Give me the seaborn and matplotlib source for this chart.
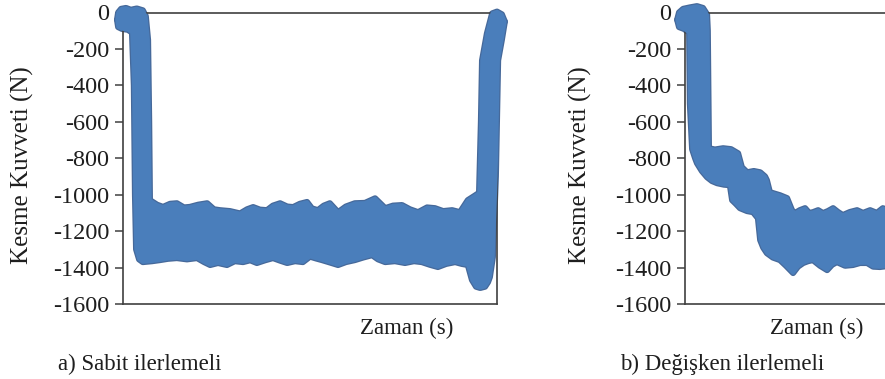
import numpy as np
import matplotlib
matplotlib.use("Agg")
import matplotlib.pyplot as plt
import seaborn as sns

# Kesme kuvveti bandi: ust ve alt zarf (zaman ekseni 0-100 birim, kuvvet N)
# a) Sabit ilerlemeli
a_t_ust = [-1.6, -1.3, -0.5, 0.8, 2.1, 3.7, 5.3, 6.1, 6.7, 7.0, 7.2, 9.1, 10.7, 12.6, 14.4,
           16.3, 17.9, 20.1, 22.5, 24.3, 25.9, 28.6, 31.3, 33.2, 34.8, 36.6, 38.5, 40.1, 42.0,
           43.9, 45.5, 47.3, 49.2, 50.5, 52.1, 53.7, 55.3, 57.5, 59.6, 62.0, 64.7, 67.4, 70.1,
           72.2, 74.6, 76.7, 78.9, 81.3, 83.4, 85.6, 88.0, 90.1, 92.2, 94.1, 95.2, 95.7, 96.0,
           97.3, 98.7, 100.0, 101.3, 102.1]
a_ust = [-40, 0, 20, 25, 15, 22, 12, -20, -150, -600, -1030, -1055, -1067, -1050, -1047,
         -1070, -1067, -1055, -1047, -1080, -1085, -1090, -1103, -1080, -1068, -1082, -1085,
         -1060, -1047, -1065, -1068, -1050, -1040, -1075, -1085, -1060, -1047, -1096, -1065,
         -1047, -1045, -1020, -1074, -1060, -1057, -1080, -1096, -1070, -1074, -1090, -1085,
         -1096, -1030, -1005, -990, -600, -263, -115, -5, 5, -10, -50]
a_t_alt = [-1.6, -1.3, -0.3, 1.3, 2.4, 2.9, 3.2, 3.5, 4.3, 5.3, 7.8, 9.9, 12.0, 14.4, 17.1,
           19.8, 21.7, 23.3, 25.4, 27.8, 29.9, 32.1, 34.0, 35.8, 38.0, 40.1, 42.0, 43.9, 46.0,
           48.1, 50.0, 51.6, 53.2, 55.3, 57.5, 59.6, 62.0, 64.2, 66.6, 68.2, 70.1, 72.7, 75.4,
           77.8, 79.9, 82.1, 84.2, 86.4, 88.8, 90.6, 92.2, 93.3, 94.4, 95.5, 96.8, 97.6, 98.1,
           98.9, 99.7, 100.3, 101.3, 102.1]
a_alt = [-40, -80, -90, -95, -110, -400, -1000, -1300, -1355, -1370, -1365, -1359, -1352,
         -1348, -1355, -1348, -1370, -1386, -1375, -1386, -1365, -1370, -1360, -1375, -1360,
         -1348, -1362, -1375, -1365, -1370, -1340, -1350, -1359, -1372, -1386, -1370, -1359,
         -1345, -1332, -1355, -1370, -1365, -1375, -1365, -1370, -1385, -1397, -1380, -1370,
         -1380, -1386, -1468, -1505, -1512, -1505, -1480, -1452, -1342, -900, -263, -150, -50]

# b) Degisken ilerlemeli
b_t_ust = [-2.1, -1.6, -0.5, 1.3, 3.2, 4.8, 5.9, 6.1, 6.4, 8.0, 10.2, 12.3, 14.2, 15.2, 16.6,
           18.4, 20.1, 21.4, 21.9, 22.7, 24.1, 25.4, 27.3, 28.6, 29.4, 30.7, 32.1, 33.2, 34.2,
           35.6, 36.9, 38.2, 39.6, 40.9, 42.2, 44.1, 46.0, 47.6, 49.5, 51.3, 52.9, 54.8]
b_ust = [-40, 0, 20, 28, 35, 25, -10, -100, -745, -752, -745, -750, -773, -849, -877, -870,
         -877, -900, -921, -986, -995, -1003, -1019, -1085, -1101, -1085, -1074, -1100, -1096,
         -1085, -1101, -1090, -1074, -1095, -1112, -1095, -1085, -1100, -1085, -1100, -1074,
         -1090]
b_t_alt = [-2.1, -1.6, -0.3, 1.1, 1.3, 1.9, 2.7, 3.2, 4.5, 5.9, 7.2, 8.6, 10.4, 12.0, 12.6,
           13.6, 14.7, 16.6, 18.2, 19.5, 20.1, 20.9, 21.9, 23.5, 25.4, 27.0, 28.9, 30.2, 31.6,
           32.9, 34.2, 36.1, 38.0, 39.3, 40.6, 42.8, 44.9, 46.8, 48.7, 50.3, 52.1, 54.8]
b_alt = [-40, -80, -90, -110, -500, -750, -800, -827, -870, -904, -925, -937, -945, -948,
         -1030, -1050, -1074, -1090, -1096, -1129, -1249, -1290, -1321, -1345, -1359, -1390,
         -1430, -1395, -1375, -1365, -1359, -1390, -1414, -1385, -1370, -1390, -1386, -1375,
         -1375, -1395, -1397, -1390]

y_ticks = [0, -200, -400, -600, -800, -1000, -1200, -1400, -1600]

sns.set_style("white")
plt.rcParams['font.family'] = ['Liberation Serif', 'DejaVu Serif']
plt.rcParams['axes.unicode_minus'] = False

mavi = '#4a7ebb'
kenar = '#46699a'
yazi = '#1e1e1e'

fig = plt.figure(figsize=(8.85, 3.79), dpi=100)
ax1 = fig.add_axes([123 / 885, 75 / 379, 374 / 885, 291.5 / 379])
ax2 = fig.add_axes([685 / 885, 75 / 379, 374 / 885, 291.5 / 379])

paneller = [(ax1, a_t_ust, a_ust, a_t_alt, a_alt),
            (ax2, b_t_ust, b_ust, b_t_alt, b_alt)]

for ax, t_u, u, t_a, a in paneller:
    # alttaki koyu kenar cizgileri (seri zarfi)
    for tt, vv in [(t_u, u), (t_a, a)]:
        sns.lineplot(x=tt, y=vv, ax=ax, sort=False, estimator=None, color=kenar,
                     lw=4.4, clip_on=False, zorder=2, solid_joinstyle='round',
                     solid_capstyle='round')
    # ustte kalin mavi bant
    ax.fill(np.concatenate([t_u, t_a[::-1]]), np.concatenate([u, a[::-1]]),
            facecolor=mavi, edgecolor=mavi, lw=2.6, joinstyle='round',
            clip_on=False, zorder=3)
    ax.set_xlim(0, 100)
    ax.set_ylim(-1600, 0)
    ax.set_yticks(y_ticks)
    ax.set_yticklabels([str(v) for v in y_ticks])
    ax.set_xticks([])
    ax.tick_params(axis='y', direction='out', length=6, width=1.1, color='#404040',
                   pad=4, labelsize=17.5, labelcolor=yazi, left=True)
    for sp in ax.spines.values():
        sp.set_color('#404040')
        sp.set_linewidth(1.2)
    ax.set_xlabel('')
    ax.set_ylabel('')

# eksen basliklari ve alt yazilar
for x_y, x_z, x_c, alt in [(22, 407, 58, 'a) Sabit ilerlemeli'),
                           (580, 817, 620, 'b) Değişken ilerlemeli')]:
    fig.text(x_y / 885, 1 - 165 / 379, 'Kesme Kuvveti (N)', rotation=90,
             ha='center', va='center', fontsize=18, color=yazi)
    fig.text(x_z / 885, 1 - 328 / 379, 'Zaman (s)', ha='center', va='center',
             fontsize=16.5, color=yazi)
    fig.text(x_c / 885, 1 - 364 / 379, alt, ha='left', va='center',
             fontsize=16.5, color=yazi)

fig.savefig('out.png', dpi=100)
